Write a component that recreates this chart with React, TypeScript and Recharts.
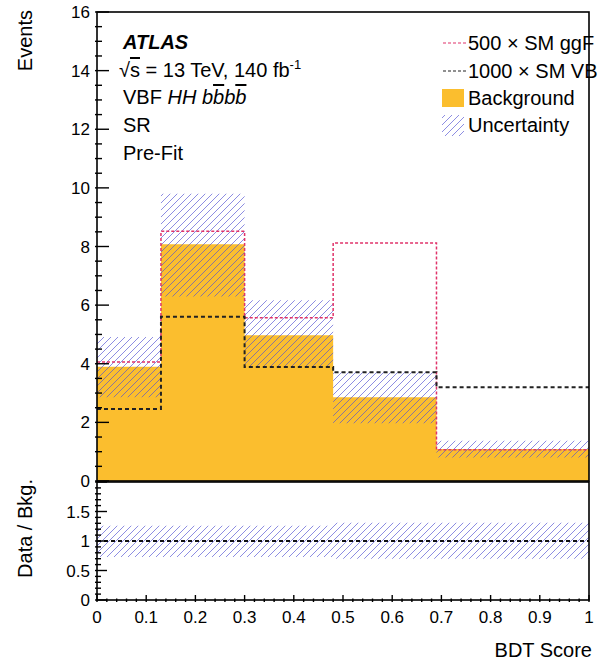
import React from 'react';
import { ComposedChart, Area, Line, XAxis, YAxis, ReferenceLine } from 'recharts';

// BDT score bin edges and per-bin contents
const binEdges = [0, 0.13, 0.3, 0.48, 0.69, 1];
const background = [3.9, 8.08, 4.97, 2.86, 1.09];
const uncDown = [2.86, 6.29, 3.89, 1.97, 0.8];
const uncUp = [4.91, 9.8, 6.17, 3.71, 1.37];
const ggF500 = [4.06, 8.52, 5.57, 8.12, 1.07];
const vbf1000 = [2.46, 5.6, 3.89, 3.71, 3.2];
const ratioDown = [0.73, 0.73, 0.73, 0.7, 0.7];
const ratioUp = [1.26, 1.26, 1.26, 1.31, 1.31];

// tick labels
const xTickLabels = ['0', '0.1', '0.2', '0.3', '0.4', '0.5', '0.6', '0.7', '0.8', '0.9', '1'];
const yTickLabels = ['0', '2', '4', '6', '8', '10', '12', '14', '16'];
const ratioTickLabels = ['0', '0.5', '1', '1.5'];

const FONT = '"Liberation Sans", Arial, Helvetica, sans-serif';
const ORANGE = '#fbbe2e';
const RED = '#e0336a';
const HATCH = 'rgba(80, 80, 210, 0.65)';

// pad geometry (page pixels)
const PLOT_LEFT = 97;
const PLOT_RIGHT = 589;
const MAIN_TOP = 12;
const MAIN_BOTTOM = 481;
const RATIO_TOP = 482;
const RATIO_BOTTOM = 600;
const RATIO_SVG_TOP = 475;

// a histogram drawn as steps needs one point per bin edge
const stepData = binEdges.map((x, i) => {
  const b = Math.min(i, background.length - 1);
  return {
    x,
    bkg: background[b],
    unc: [uncDown[b], uncUp[b]],
    ggf: ggF500[b],
    vbf: vbf1000[b],
  };
});

const ratioData = binEdges.map((x, i) => {
  const b = Math.min(i, ratioDown.length - 1);
  return { x, band: [ratioDown[b], ratioUp[b]] };
});

// minor + major tick positions (ROOT style)
const range = (start: number, stop: number, step: number) => {
  const out: number[] = [];
  for (let k = 0; start + k * step <= stop + 1e-9; k++) out.push(+(start + k * step).toFixed(3));
  return out;
};
const xTicks = range(0, 1, 0.02);
const yTicks = range(0, 16, 0.5);
const ratioTicks = range(0, 2, 0.1);

type Side = 'bottom' | 'top' | 'left' | 'right';

const isMultiple = (v: number, step: number) => Math.abs(v / step - Math.round(v / step)) < 1e-6;

// ticks point into the frame, labels only on the outer bottom/left sides
const makeTick = (side: Side, majorStep: number, majorLen: number, minorLen: number, labels: string[] | null) =>
  (props: any) => {
    const x = Number(props.x);
    const y = Number(props.y);
    const v = Number(props.payload.value);
    const len = isMultiple(v, majorStep) ? majorLen : minorLen;
    const key = String(+v.toFixed(3));
    const label = labels && labels.includes(key) ? key : null;
    let x2 = x;
    let y2 = y;
    if (side === 'bottom') y2 = y - len;
    if (side === 'top') y2 = y + len;
    if (side === 'left') x2 = x + len;
    if (side === 'right') x2 = x - len;
    return (
      <g>
        <path d={`M${x},${y}L${x2},${y2}`} stroke="#000" strokeWidth={1.4} fill="none" />
        {label && side === 'bottom' && (
          <text x={x} y={y + 21} textAnchor="middle" fontSize={17} fontFamily={FONT} fill="#000">
            {label}
          </text>
        )}
        {label && side === 'left' && (
          <text x={x - 5} y={y + 6} textAnchor="end" fontSize={17} fontFamily={FONT} fill="#000">
            {label}
          </text>
        )}
      </g>
    );
  };

const hatchDefs = (id: string) => (
  <defs>
    <pattern id={id} width={7} height={7} patternUnits="userSpaceOnUse">
      <path d="M0,7 L7,0 M-1,1 L1,-1 M6,8 L8,6" stroke={HATCH} strokeWidth={1} />
    </pattern>
  </defs>
);

const MainPanel = () => (
  <ComposedChart width={598} height={490} data={stepData} margin={{ top: MAIN_TOP, right: 598 - PLOT_RIGHT, bottom: 490 - MAIN_BOTTOM, left: 0 }}>
    {hatchDefs('hatchMain')}
    <XAxis dataKey="x" type="number" domain={[0, 1]} ticks={xTicks} interval={0} height={0} tickLine={false} tickSize={0} axisLine={false} tick={makeTick('bottom', 0.1, 13, 6.5, null)} />
    <XAxis xAxisId="top" orientation="top" dataKey="x" type="number" domain={[0, 1]} ticks={xTicks} interval={0} height={0} tickLine={false} tickSize={0} axisLine={false} tick={makeTick('top', 0.1, 13, 6.5, null)} />
    <YAxis type="number" domain={[0, 16]} ticks={yTicks} interval={0} width={PLOT_LEFT} tickLine={false} tickSize={0} axisLine={false} tick={makeTick('left', 2, 14, 7, yTickLabels)} />
    <YAxis yAxisId="right" orientation="right" type="number" domain={[0, 16]} ticks={yTicks} interval={0} width={0} tickLine={false} tickSize={0} axisLine={false} tick={makeTick('right', 2, 14, 7, null)} />
    <Area type="stepAfter" dataKey="bkg" fill={ORANGE} fillOpacity={1} stroke="none" isAnimationActive={false} />
    <Area type="stepAfter" dataKey="unc" fill="url(#hatchMain)" fillOpacity={1} stroke="none" isAnimationActive={false} />
    <Line type="stepAfter" dataKey="ggf" stroke={RED} strokeWidth={1.5} strokeDasharray="3 2" dot={false} isAnimationActive={false} />
    <Line type="stepAfter" dataKey="vbf" stroke="#222" strokeWidth={2} strokeDasharray="4 3" dot={false} isAnimationActive={false} />
  </ComposedChart>
);

const RatioPanel = () => (
  <ComposedChart
    width={598}
    height={186}
    data={ratioData}
    margin={{ top: RATIO_TOP - RATIO_SVG_TOP, right: 598 - PLOT_RIGHT, bottom: 0, left: 0 }}
  >
    {hatchDefs('hatchRatio')}
    <XAxis dataKey="x" type="number" domain={[0, 1]} ticks={xTicks} interval={0} height={661 - RATIO_BOTTOM} tickLine={false} tickSize={0} axisLine={false} tick={makeTick('bottom', 0.1, 7, 3.5, xTickLabels)} />
    <XAxis xAxisId="top" orientation="top" dataKey="x" type="number" domain={[0, 1]} ticks={xTicks} interval={0} height={0} tickLine={false} tickSize={0} axisLine={false} tick={makeTick('top', 0.1, 7, 3.5, null)} />
    <YAxis type="number" domain={[0, 2]} ticks={ratioTicks} interval={0} width={PLOT_LEFT} tickLine={false} tickSize={0} axisLine={false} tick={makeTick('left', 0.5, 12, 6, ratioTickLabels)} />
    <YAxis yAxisId="right" orientation="right" type="number" domain={[0, 2]} ticks={ratioTicks} interval={0} width={0} tickLine={false} tickSize={0} axisLine={false} tick={makeTick('right', 0.5, 12, 6, null)} />
    <Area type="stepAfter" dataKey="band" fill="url(#hatchRatio)" fillOpacity={1} stroke="none" isAnimationActive={false} />
    <ReferenceLine y={1} stroke="#111" strokeWidth={2} strokeDasharray="4 3" />
  </ComposedChart>
);

const textStyle = { fontFamily: FONT, fontSize: 20, fill: '#000' };

const Overlay = () => (
  <svg width={598} height={661} style={{ position: 'absolute', left: 0, top: 0, pointerEvents: 'none' }}>
    {hatchDefs('hatchLegend')}
    {/* pad frames */}
    <rect x={PLOT_LEFT} y={MAIN_TOP} width={PLOT_RIGHT - PLOT_LEFT} height={MAIN_BOTTOM - MAIN_TOP} fill="none" stroke="#000" strokeWidth={1.6} />
    <rect x={PLOT_LEFT} y={RATIO_TOP} width={PLOT_RIGHT - PLOT_LEFT} height={RATIO_BOTTOM - RATIO_TOP} fill="none" stroke="#000" strokeWidth={1.6} />

    {/* axis titles */}
    <text transform="translate(32, 10) rotate(-90)" textAnchor="end" style={textStyle}>
      Events
    </text>
    <text transform="translate(32, 479) rotate(-90)" textAnchor="end" style={textStyle}>
      Data / Bkg.
    </text>
    <text x={592} y={657} textAnchor="end" style={textStyle}>
      BDT Score
    </text>

    {/* label block */}
    <text x={123} y={49} style={{ ...textStyle, fontWeight: 'bold', fontStyle: 'italic' }}>
      ATLAS
    </text>
    <text x={119} y={77} style={textStyle}>
      √<tspan style={{ textDecoration: 'overline' }}>s</tspan> = 13 TeV, 140 fb
      <tspan dy={-8} fontSize={13}>-1</tspan>
    </text>
    <text x={123} y={104} style={textStyle}>
      VBF{' '}
      <tspan fontStyle="italic">
        HH b<tspan style={{ textDecoration: 'overline' }}>b</tspan>b
        <tspan style={{ textDecoration: 'overline' }}>b</tspan>
      </tspan>
    </text>
    <text x={123} y={132} style={textStyle}>
      SR
    </text>
    <text x={123} y={160} style={textStyle}>
      Pre-Fit
    </text>

    {/* legend */}
    <line x1={443} y1={43} x2={467} y2={43} stroke={RED} strokeWidth={1.2} strokeDasharray="3 2" />
    <text x={468} y={50} style={textStyle}>
      500 × SM ggF
    </text>
    <line x1={443} y1={71} x2={467} y2={71} stroke="#222" strokeWidth={1.2} strokeDasharray="3 2" />
    <text x={468} y={78} style={textStyle}>
      1000 × SM VBF
    </text>
    <rect x={442} y={89} width={22} height={18} fill={ORANGE} />
    <text x={468} y={105} style={textStyle}>
      Background
    </text>
    <rect x={442} y={115} width={22} height={21} fill="url(#hatchLegend)" />
    <text x={468} y={132} style={textStyle}>
      Uncertainty
    </text>
  </svg>
);

export default function App() {
  return (
    <div style={{ position: 'absolute', left: 0, top: 0, width: 598, height: 661, background: '#fff', overflow: 'hidden' }}>
      <div style={{ position: 'absolute', left: 0, top: 0 }}>
        <MainPanel />
      </div>
      <div style={{ position: 'absolute', left: 0, top: RATIO_SVG_TOP }}>
        <RatioPanel />
      </div>
      <Overlay />
    </div>
  );
}
